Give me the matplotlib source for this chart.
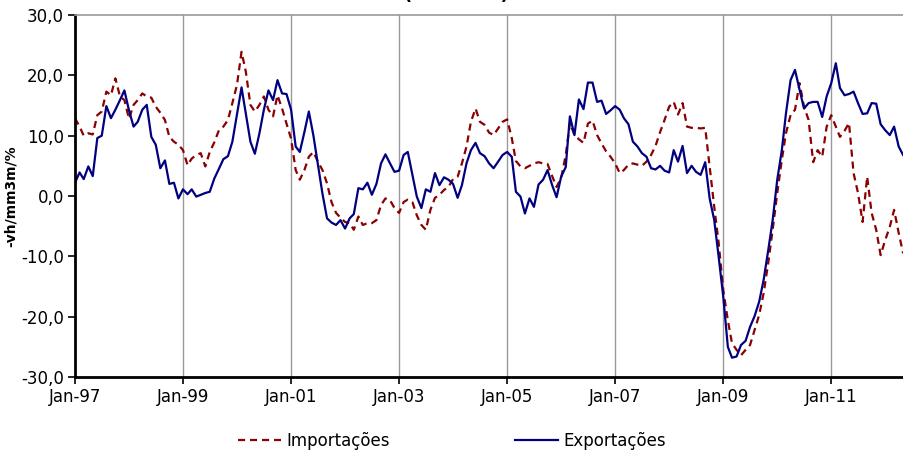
import numpy as np
import pandas as pd
import matplotlib
matplotlib.use("Agg")
import matplotlib.pyplot as plt
import matplotlib.dates as mdates

# monthly data, Jan 1997 .. May 2012
months = pd.date_range("1997-01-01", periods=185, freq="MS")

importacoes = [
    12.9, 11.5, 10.0, 10.4, 10.2, 13.4, 14.0, 17.3, 16.7, 19.5, 16.5, 15.9,
    12.8, 15.1, 15.9, 17.0, 16.5, 16.3, 14.8, 13.8, 12.6, 9.8, 9.0, 8.5,
    7.6, 5.1, 6.2, 6.8, 7.1, 4.9, 7.3, 8.9, 10.9, 11.5, 12.6, 15.4,
    18.4, 23.9, 20.6, 15.1, 14.0, 15.1, 16.5, 14.3, 13.2, 16.7, 14.5, 12.0,
    9.5, 4.3, 2.7, 4.3, 6.5, 7.3, 5.7, 4.3, 2.1, -1.0, -2.8, -3.6,
    -4.3, -4.5, -5.6, -3.4, -4.8, -4.5, -4.5, -4.0, -1.5, -0.4, -0.7, -2.0,
    -2.8, -1.0, -0.6, -1.0, -3.2, -4.8, -5.6, -2.3, -0.3, 0.2, 1.0, 1.5,
    2.8, 3.2, 5.4, 8.2, 12.3, 14.5, 12.3, 11.8, 10.5, 10.1, 11.2, 12.3,
    12.7, 9.6, 5.8, 4.9, 4.6, 5.0, 5.4, 5.6, 5.4, 5.3, 3.3, 1.5,
    3.0, 6.8, 12.1, 10.1, 9.4, 8.8, 12.0, 12.5, 10.1, 8.7, 7.4, 6.5,
    5.4, 3.8, 4.3, 5.2, 5.4, 5.2, 5.0, 5.7, 6.8, 8.3, 10.6, 12.6,
    14.8, 15.6, 13.5, 15.4, 11.5, 11.3, 11.3, 11.2, 11.3, 4.9, -1.8, -7.8,
    -15.6, -20.6, -24.4, -25.5, -26.4, -25.5, -24.7, -22.2, -19.7, -16.1, -11.1, -5.6,
    0.5, 6.0, 10.4, 13.4, 14.3, 18.7, 14.8, 12.6, 5.6, 7.6, 6.5, 11.5,
    13.4, 11.5, 9.8, 10.8, 12.1, 3.8, 0.5, -4.3, 3.2, -2.8, -5.6, -9.8,
    -7.3, -5.1, -2.3, -6.1, -9.5,
]

exportacoes = [
    2.2, 3.9, 2.8, 4.9, 3.3, 9.6, 10.0, 14.9, 12.9, 14.3, 15.9, 17.5,
    14.2, 11.5, 12.3, 14.3, 15.1, 9.8, 8.5, 4.6, 5.9, 2.0, 2.2, -0.4,
    1.1, 0.3, 1.1, -0.1, 0.2, 0.5, 0.7, 2.9, 4.5, 6.1, 6.6, 9.0,
    13.5, 18.0, 13.7, 9.0, 7.0, 10.4, 14.3, 17.5, 15.9, 19.2, 17.0, 16.9,
    14.3, 8.2, 7.3, 10.6, 14.0, 10.0, 5.3, 0.4, -3.7, -4.4, -4.8, -4.0,
    -5.4, -3.7, -3.0, 1.3, 1.1, 2.2, 0.2, 2.0, 5.4, 6.9, 5.4, 4.0,
    4.2, 6.8, 7.3, 3.5, -0.1, -2.0, 1.1, 0.7, 3.8, 1.8, 3.1, 2.7,
    2.0, -0.3, 1.8, 5.4, 7.6, 8.8, 7.1, 6.6, 5.4, 4.6, 5.7, 6.8,
    7.3, 6.5, 0.7, -0.1, -2.9, -0.4, -1.8, 1.9, 2.7, 4.3, 1.8, -0.2,
    3.2, 4.8, 13.2, 10.1, 16.0, 14.4, 18.8, 18.8, 15.6, 15.8, 13.6, 14.2,
    14.9, 14.3, 12.9, 11.9, 9.0, 8.2, 7.1, 6.5, 4.6, 4.4, 5.0, 4.2,
    3.9, 7.6, 5.7, 8.3, 3.8, 5.0, 4.0, 3.5, 5.6, -0.4, -4.0, -10.1,
    -16.7, -25.0, -26.8, -26.6, -24.7, -24.0, -21.7, -19.9, -17.5, -13.9, -9.0, -4.0,
    2.7, 7.6, 13.7, 19.2, 20.9, 17.6, 14.5, 15.4, 15.6, 15.6, 13.1, 16.5,
    18.7, 22.0, 17.9, 16.7, 16.9, 17.3, 15.4, 13.6, 13.7, 15.4, 15.3, 11.9,
    10.9, 10.1, 11.5, 8.2, 6.8,
]

tick_labels = ["Jan-97", "Jan-99", "Jan-01", "Jan-03", "Jan-05", "Jan-07", "Jan-09", "Jan-11"]
y_ticks = [-30, -20, -10, 0, 10, 20, 30]

plt.rcParams['font.family'] = ['DejaVu Sans']

W, H = 904, 459
fig = plt.figure(figsize=(W / 100, H / 100), dpi=100)
ax = fig.add_axes([75 / W, (H - 377) / H, (W - 75) / W, 362 / H])

ax.plot(months, importacoes, color="#8B0000", lw=1.6, ls=(0, (3.2, 2.2)),
        label="Importações")
ax.plot(months, exportacoes, color="#000080", lw=1.6, label="Exportações")

ax.set_ylim(-30, 30)
ax.set_xlim(months[0], months[-1] + pd.Timedelta(days=6))

tick_pos = [pd.Timestamp(1997 + 2 * k, 1, 1) for k in range(len(tick_labels))]
ax.set_xticks(tick_pos)
ax.set_xticklabels(tick_labels, fontsize=12)
ax.set_yticks(y_ticks)
ax.set_yticklabels([f"{v:.1f}".replace(".", ",") for v in y_ticks], fontsize=12)

for t in tick_pos[1:]:
    ax.axvline(t, color="#999999", lw=1.0, zorder=0)

ax.tick_params(axis="both", direction="out", length=5, width=1.2, color="black", pad=3)
ax.spines["left"].set_linewidth(2)
ax.spines["bottom"].set_linewidth(2)
ax.spines["right"].set_visible(False)
ax.spines["top"].set_color("#999999")
ax.spines["top"].set_linewidth(1.2)

ax.set_ylabel("-vh/mm3m/%", fontsize=10, fontweight="bold", labelpad=2)

fig.text(0.505, 1 - 4 / H, "(em valor)", ha="center", va="bottom",
         fontsize=13, fontweight="bold")

fig.legend(loc="center", bbox_to_anchor=(0.5, 1 - 441 / H), ncol=2, frameon=False,
           fontsize=12, handlelength=2.6, columnspacing=7.5, handletextpad=0.3)

fig.savefig("out.png", dpi=100)
